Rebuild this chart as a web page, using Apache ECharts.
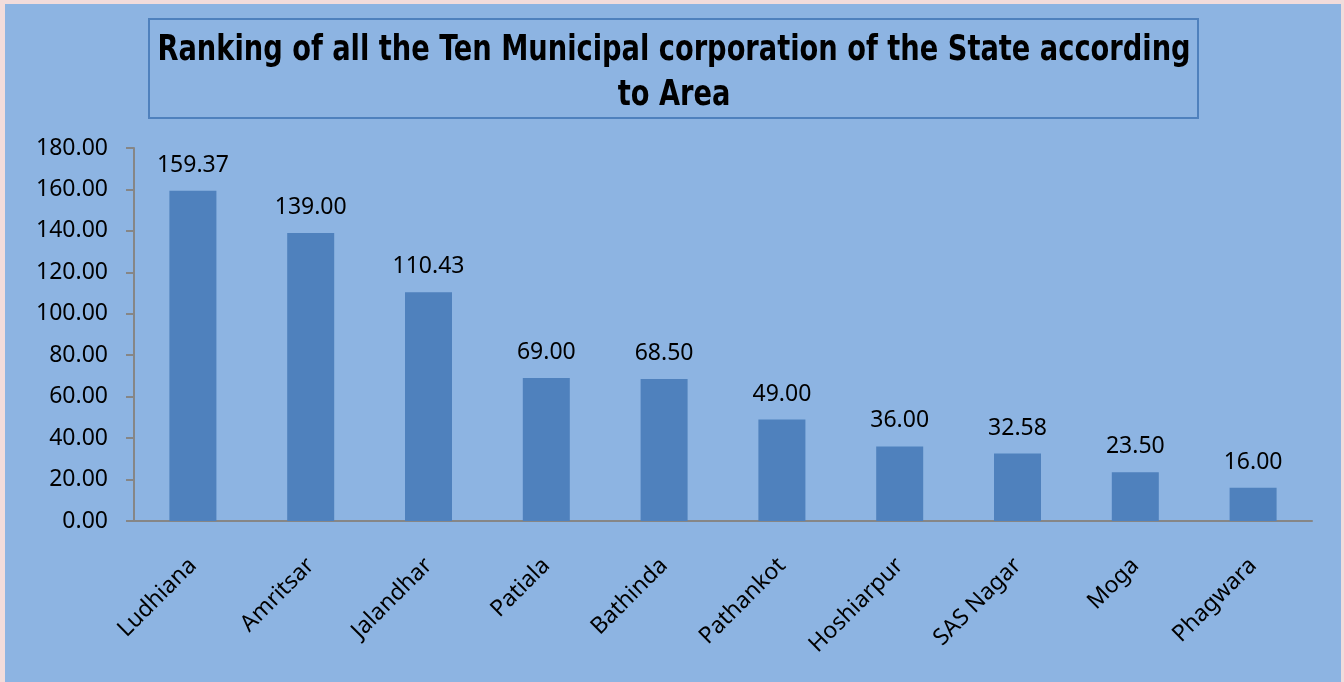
<!DOCTYPE html>
<html lang="en">
<head>
<meta charset="UTF-8">
<title>Ranking by Area</title>
<script src="https://cdn.jsdelivr.net/npm/echarts@6/dist/echarts.min.js"></script>
<style>
  html, body { margin: 0; padding: 0; background: #f2dcdb; }
  #main { position: absolute; left: 5px; top: 4px; width: 1336px; height: 678px; }
</style>
</head>
<body>
<div id="main"></div>
<script>
    var myChart = echarts.init(document.getElementById('main'));

    // data
    let corporations = ['Ludhiana', 'Amritsar', 'Jalandhar', 'Patiala', 'Bathinda', 'Pathankot', 'Hoshiarpur', 'SAS Nagar', 'Moga', 'Phagwara'];
    let areas = [159.37, 139.00, 110.43, 69.00, 68.50, 49.00, 36.00, 32.58, 23.50, 16.00];
    let titleText = 'Ranking of all the Ten Municipal corporation of the State according\nto Area';

    let labelFont = '"Noto Sans", "Open Sans", sans-serif';

    let option = {
        backgroundColor: '#8db4e2',
        animation: false,
        graphic: [
            {
                type: 'rect',
                x: 144, y: 15,
                shape: { width: 1049, height: 99 },
                style: { fill: 'none', stroke: '#4f81bd', lineWidth: 2 }
            },
            {
                // narrow bold title, squeezed a bit to match the condensed face
                type: 'text',
                x: 669, y: 24,
                scaleX: 0.866,
                style: {
                    text: titleText,
                    fill: '#000',
                    font: 'bold 35px "DejaVu Sans Condensed", "Liberation Sans Narrow", sans-serif',
                    align: 'center',
                    verticalAlign: 'top',
                    lineHeight: 45
                }
            }
        ],
        grid: {
            left: 129, right: 29, top: 144, bottom: 161,
            outerBoundsMode: 'none'
        },
        xAxis: {
            type: 'category',
            data: corporations,
            axisLine: { lineStyle: { color: '#868686', width: 2 } },
            axisTick: { length: 7, lineStyle: { color: '#868686', width: 2 } },
            axisLabel: {
                rotate: 45, margin: 41, interval: 0,
                color: '#000', fontSize: 23, fontFamily: labelFont
            }
        },
        yAxis: {
            type: 'value',
            min: 0, max: 180, interval: 20,
            axisLine: { show: true, lineStyle: { color: '#868686', width: 2 } },
            axisTick: { show: true, length: 8, lineStyle: { color: '#868686', width: 2 } },
            splitLine: { show: false },
            axisLabel: {
                margin: 26, color: '#000', fontSize: 23, fontFamily: labelFont,
                formatter: function (v) { return v.toFixed(2); }
            }
        },
        series: [{
            type: 'bar',
            data: areas,
            barWidth: 47,
            itemStyle: { color: '#4f81bd' },
            label: {
                show: true, position: 'top', distance: 14,
                color: '#000', fontSize: 23, fontFamily: labelFont,
                formatter: function (p) { return p.value.toFixed(2); }
            }
        }]
    };

    myChart.setOption(option);
</script>
</body>
</html>
